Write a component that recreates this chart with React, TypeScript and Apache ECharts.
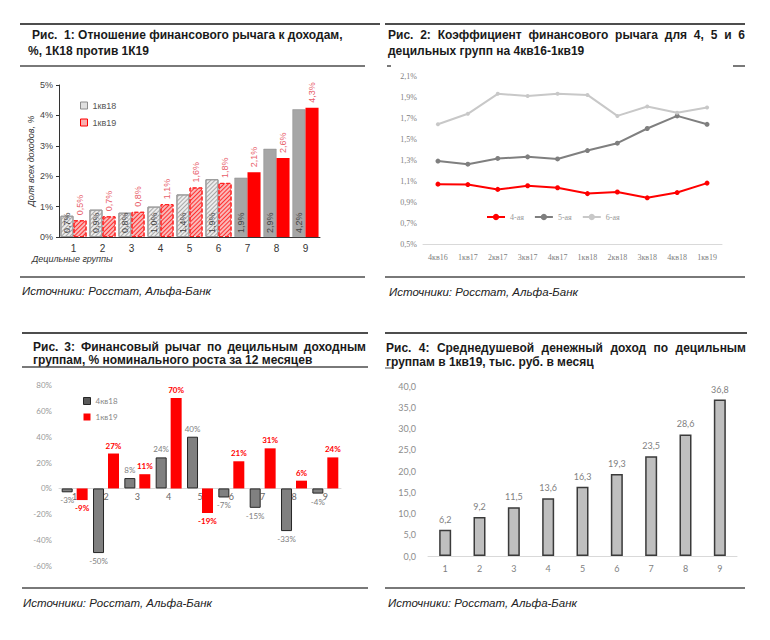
import React, { useEffect, useRef } from "react";
import * as echarts from "echarts";

// ---------- DATA ----------
const deciles = ["1", "2", "3", "4", "5", "6", "7", "8", "9"];

// Fig 1: leverage to income, %
const lev18 = [0.7, 0.9, 0.8, 1.0, 1.4, 1.9, 1.95, 2.9, 4.2];
const lev18Labels = ["0,7%", "0,9%", "0,8%", "1,0%", "1,4%", "1,9%", "1,9%", "2,9%", "4,2%"];
const lev19 = [0.55, 0.68, 0.83, 1.08, 1.63, 1.78, 2.13, 2.6, 4.25];
const lev19Labels = ["0,5%", "0,7%", "0,8%", "1,1%", "1,6%", "1,8%", "2,1%", "2,6%", "4,3%"];

// Fig 2: leverage ratio for deciles 4,5,6
const quarters = ["4кв16", "1кв17", "2кв17", "3кв17", "4кв17", "1кв18", "2кв18", "3кв18", "4кв18", "1кв19"];
const dec4 = [1.07, 1.066, 1.02, 1.055, 1.036, 0.98, 0.995, 0.94, 0.99, 1.08];
const dec5 = [1.29, 1.26, 1.315, 1.33, 1.31, 1.39, 1.46, 1.6, 1.72, 1.64];
const dec6 = [1.64, 1.74, 1.93, 1.91, 1.93, 1.92, 1.72, 1.81, 1.75, 1.8];

// Fig 3: nominal growth over 12 months, %
const growth4q18 = [-3, -50, 8, 24, 40, -7, -15, -33, -4];
const growth1q19 = [-9, 27, 11, 70, -19, 21, 31, 6, 24];

// Fig 4: average per-capita income, thousand rub per month
const income = [6.2, 9.2, 11.5, 13.6, 16.3, 19.3, 23.5, 28.6, 36.8];

// ---------- STYLE ----------
const HATCHED_GROUPS = 6;
const SANS = '"Liberation Sans", Arial, sans-serif';
const SERIF = '"Liberation Serif", "Times New Roman", serif';
const CAL = 'Lato, "Liberation Sans", sans-serif';
const TITLE_FONT = `bold 12px ${SANS}`;
const SOURCE = "Источники: Росстат, Альфа-Банк";

// Fig 3 axis range (for placing the category axis on the zero line)
const G3_MIN = -60;
const G3_MAX = 80;
const G3_HEIGHT = 181;

function measure(text: string, font: string): number {
  const c = document.createElement("canvas").getContext("2d");
  if (!c) return text.length * 7;
  c.font = font;
  return c.measureText(text).width;
}

function justified(line: string, x0: number, x1: number, y: number): any[] {
  const words = line.split(" ");
  const widths = words.map((w) => measure(w, TITLE_FONT));
  const total = widths.reduce((a, b) => a + b, 0);
  const gap = words.length > 1 ? (x1 - x0 - total) / (words.length - 1) : 0;
  let x = x0;
  return words.map((w, i) => {
    const el = {
      type: "text",
      x,
      y,
      style: { text: w, font: TITLE_FONT, fill: "#1a1a1a", verticalAlign: "middle" },
    };
    x += widths[i] + gap;
    return el;
  });
}

function txt(text: string, x: number, y: number, font = TITLE_FONT, fill = "#1a1a1a"): any {
  return { type: "text", x, y, style: { text, font, fill, verticalAlign: "middle" } };
}
function rule(x1: number, x2: number, y: number, w = 2): any {
  return { type: "line", shape: { x1, y1: y, x2, y2: y }, style: { stroke: "#4d4d4d", lineWidth: w } };
}

const hatch = (c: string) => ({
  symbol: "rect",
  symbolSize: 1,
  dashArrayX: [1, 0],
  dashArrayY: [1, 2],
  rotation: -Math.PI / 4,
  color: c,
});

const comma = (v: number, d = 1) => v.toFixed(d).replace(".", ",");

export default function App() {
  const ref = useRef<HTMLDivElement>(null);

  useEffect(() => {
    if (!ref.current) return;
    const chart = echarts.init(ref.current, undefined, { renderer: "svg" });
    const srcFont = `italic 11.5px ${SANS}`;

    const graphic: any[] = [
      // Panel 1
      rule(20, 380, 24),
      txt("Рис.  1: Отношение финансового рычага к доходам,", 32, 35),
      txt("%, 1К18 против 1К19", 28, 51),
      rule(20, 365, 66, 1.5),
      txt("Децильные группы", 32, 259, `italic 9px ${SANS}`, "#333"),
      rule(20, 365, 277, 1.5),
      txt(SOURCE, 22, 291, srcFont, "#222"),
      // Panel 2
      rule(385, 745, 24),
      ...justified("Рис. 2: Коэффициент финансового рычага для 4, 5 и 6", 388, 745, 35),
      txt("децильных групп на 4кв16-1кв19", 388, 51),
      rule(387, 391, 66, 1.5),
      rule(733, 745, 66, 1.5),
      rule(385, 745, 277, 1.5),
      txt(SOURCE, 389, 292, srcFont, "#222"),
      // Panel 3
      rule(22, 368, 333),
      ...justified("Рис. 3: Финансовый рычаг по децильным доходным", 33, 366, 347),
      txt("группам, % номинального роста за 12 месяцев", 33, 360),
      rule(22, 368, 367, 1.5),
      rule(22, 368, 588, 1.5),
      txt(SOURCE, 23, 603, srcFont, "#222"),
      // Panel 4
      rule(385, 747, 333),
      ...justified("Рис. 4: Среднедушевой денежный доход по децильным", 386, 746, 348),
      txt("группам в 1кв19, тыс. руб. в месяц", 386, 362),
      rule(385, 394, 368, 1),
      rule(385, 745, 588, 1.5),
      txt(SOURCE, 388, 603, srcFont, "#222"),
    ];

    const option: any = {
      animation: false,
      backgroundColor: "#ffffff",
      textStyle: { fontFamily: SANS },
      graphic,
      grid: [
        { left: 59, top: 85, width: 261, height: 152 },
        { left: 423, top: 76, width: 299, height: 168 },
        { left: 59, top: 385, width: 282, height: G3_HEIGHT },
        { left: 428, top: 386, width: 309, height: 170 },
      ],
      legend: [
        {
          left: 75,
          top: 96,
          orient: "vertical",
          itemWidth: 7,
          itemHeight: 7,
          itemGap: 8,
          textStyle: { fontSize: 9, color: "#555", fontFamily: SANS },
          data: [
            { name: "1кв18", icon: "rect", itemStyle: { color: "#e0e0e0", borderColor: "#8c8c8c", borderWidth: 1 } },
            { name: "1кв19", icon: "rect", itemStyle: { color: "#f8b0b0", borderColor: "#ff0000", borderWidth: 1 } },
          ],
        },
        {
          left: 481,
          top: 208,
          itemWidth: 18,
          itemHeight: 8,
          itemGap: 10,
          textStyle: { fontSize: 8, color: "#999", fontFamily: SERIF },
          data: ["4-ая", "5-ая", "6-ая"],
        },
        {
          left: 78,
          top: 392,
          orient: "vertical",
          itemWidth: 7,
          itemHeight: 7,
          itemGap: 8,
          textStyle: { fontSize: 8, color: "#888", fontFamily: CAL },
          data: [
            { name: "4кв18", icon: "rect", itemStyle: { color: "#595959", borderColor: "#262626", borderWidth: 1 } },
            { name: "1кв19", icon: "rect", itemStyle: { color: "#ff0000", borderWidth: 0 } },
          ],
        },
      ],
      xAxis: [
        {
          gridIndex: 0,
          type: "category",
          data: deciles,
          axisLine: { lineStyle: { color: "#333", width: 1 } },
          axisTick: { show: false },
          axisLabel: { fontSize: 10, color: "#333", margin: 6, fontFamily: SANS },
        },
        {
          gridIndex: 1,
          type: "category",
          data: quarters,
          boundaryGap: true,
          axisLine: { lineStyle: { color: "#d9d9d9", width: 1 } },
          axisTick: { show: false },
          axisLabel: { fontSize: 8, color: "#808080", margin: 9, fontFamily: SERIF, interval: 0 },
        },
        {
          gridIndex: 2,
          type: "category",
          data: deciles,
          position: "bottom",
          offset: -(G3_HEIGHT * (0 - G3_MIN)) / (G3_MAX - G3_MIN),
          axisLine: { onZero: false, lineStyle: { color: "#d9d9d9", width: 1 } },
          axisTick: { show: false },
          axisLabel: { fontSize: 9, color: "#666", margin: 4, fontFamily: CAL },
        },
        {
          gridIndex: 3,
          type: "category",
          data: deciles,
          axisLine: { lineStyle: { color: "#d9d9d9", width: 1 } },
          axisTick: { show: false },
          axisLabel: { fontSize: 9, color: "#7f7f7f", margin: 8, fontFamily: CAL },
        },
      ],
      yAxis: [
        {
          gridIndex: 0,
          type: "value",
          min: 0,
          max: 5,
          interval: 1,
          axisLine: { show: true, lineStyle: { color: "#333", width: 1 } },
          axisTick: { show: true, length: 3, lineStyle: { color: "#333" } },
          splitLine: { show: false },
          axisLabel: { fontSize: 9, color: "#444", margin: 6, formatter: (v: number) => v + "%" },
          name: "Доля всех доходов, %",
          nameLocation: "middle",
          nameGap: 24,
          nameTextStyle: { fontSize: 9, fontStyle: "italic", color: "#333" },
        },
        {
          gridIndex: 1,
          type: "value",
          min: 0.5,
          max: 2.1,
          interval: 0.2,
          axisLine: { show: false },
          axisTick: { show: false },
          splitLine: { show: false },
          axisLabel: {
            fontSize: 8,
            color: "#808080",
            margin: 6,
            fontFamily: SERIF,
            formatter: (v: number) => comma(v) + "%",
          },
        },
        {
          gridIndex: 2,
          type: "value",
          min: G3_MIN,
          max: G3_MAX,
          interval: 20,
          axisLine: { show: false },
          axisTick: { show: false },
          splitLine: { show: false },
          axisLabel: { fontSize: 8, color: "#999", margin: 7, fontFamily: CAL, formatter: (v: number) => v + "%" },
        },
        {
          gridIndex: 3,
          type: "value",
          min: 0,
          max: 40,
          interval: 5,
          axisLine: { show: false },
          axisTick: { show: false },
          splitLine: { show: false },
          axisLabel: { fontSize: 9, color: "#8c8c8c", margin: 12, fontFamily: CAL, formatter: (v: number) => comma(v) },
        },
      ],
      series: [
        // Panel 1
        {
          name: "1кв18",
          type: "bar",
          xAxisIndex: 0,
          yAxisIndex: 0,
          barGap: "0%",
          barCategoryGap: "10%",
          itemStyle: { color: "#e0e0e0", borderColor: "#8c8c8c" },
          data: lev18.map((v, i) => ({
            value: v,
            itemStyle:
              i < HATCHED_GROUPS
                ? { color: "#ececec", borderColor: "#9a9a9a", borderWidth: 1, decal: hatch("#a8a8a8") }
                : { color: "#a6a6a6", borderColor: "#8c8c8c", borderWidth: 0.5 },
          })),
          label: {
            show: true,
            position: "insideBottom",
            rotate: 90,
            align: "left",
            verticalAlign: "middle",
            distance: 4,
            fontSize: 9,
            color: "#444",
            formatter: (p: any) => lev18Labels[p.dataIndex],
          },
        },
        {
          name: "1кв19",
          type: "bar",
          xAxisIndex: 0,
          yAxisIndex: 0,
          barGap: "0%",
          barCategoryGap: "10%",
          itemStyle: { color: "#f8b0b0", borderColor: "#ff0000" },
          data: lev19.map((v, i) => ({
            value: v,
            itemStyle:
              i < HATCHED_GROUPS
                ? { color: "#f9b8b8", borderColor: "#ff2020", borderWidth: 1, borderType: "dashed", decal: hatch("#ff3030") }
                : { color: "#ff0000", borderColor: "#ff0000", borderWidth: 0 },
          })),
          label: {
            show: true,
            position: "top",
            rotate: 90,
            align: "left",
            verticalAlign: "middle",
            distance: 5,
            fontSize: 9,
            color: "#e8606a",
            formatter: (p: any) => lev19Labels[p.dataIndex],
          },
        },
        // Panel 2
        {
          name: "4-ая",
          type: "line",
          xAxisIndex: 1,
          yAxisIndex: 1,
          data: dec4,
          color: "#ff0000",
          lineStyle: { width: 2 },
          symbol: "circle",
          symbolSize: 5,
        },
        {
          name: "5-ая",
          type: "line",
          xAxisIndex: 1,
          yAxisIndex: 1,
          data: dec5,
          color: "#7f7f7f",
          lineStyle: { width: 2 },
          symbol: "circle",
          symbolSize: 5,
        },
        {
          name: "6-ая",
          type: "line",
          xAxisIndex: 1,
          yAxisIndex: 1,
          data: dec6,
          color: "#c8c8c8",
          lineStyle: { width: 2 },
          symbol: "circle",
          symbolSize: 4,
        },
        // Panel 3
        {
          name: "4кв18",
          type: "bar",
          xAxisIndex: 2,
          yAxisIndex: 2,
          barWidth: 11,
          barGap: "36%",
          itemStyle: { color: "#808080", borderColor: "#262626", borderWidth: 1 },
          data: growth4q18.map((v) => ({
            value: v,
            label: { position: v >= 0 ? "top" : "bottom" },
          })),
          label: {
            show: true,
            fontSize: 8,
            color: "#808080",
            distance: 4,
            fontFamily: CAL,
            formatter: (p: any) => p.value + "%",
          },
        },
        {
          name: "1кв19",
          type: "bar",
          xAxisIndex: 2,
          yAxisIndex: 2,
          barWidth: 11,
          barGap: "36%",
          itemStyle: { color: "#ff0000" },
          data: growth1q19.map((v) => ({
            value: v,
            label: { position: v >= 0 ? "top" : "bottom" },
          })),
          label: {
            show: true,
            fontSize: 8,
            fontWeight: "bold",
            color: "#ff0000",
            distance: 4,
            fontFamily: CAL,
            formatter: (p: any) => p.value + "%",
          },
        },
        // Panel 4
        {
          name: "Доход",
          type: "bar",
          xAxisIndex: 3,
          yAxisIndex: 3,
          barWidth: 12,
          data: income,
          itemStyle: { color: "#bfbfbf", borderColor: "#3a3a3a", borderWidth: 1.5 },
          label: {
            show: true,
            position: "top",
            distance: 6,
            fontSize: 9,
            color: "#7f7f7f",
            fontFamily: CAL,
            formatter: (p: any) => comma(p.value),
          },
        },
      ],
    };

    chart.setOption(option);
    return () => chart.dispose();
  }, []);

  return (
    <div
      ref={ref}
      style={{ position: "absolute", left: 0, top: 0, width: 770, height: 640, background: "#fff" }}
    />
  );
}
